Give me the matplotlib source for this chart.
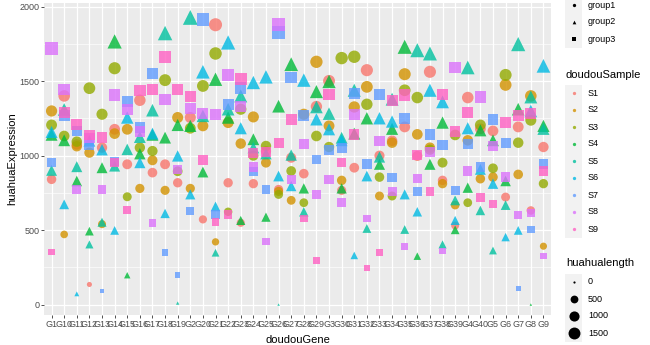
import numpy as np
import matplotlib
matplotlib.use("Agg")
import matplotlib.pyplot as plt

plt.rcParams['font.family'] = ['Liberation Sans', 'DejaVu Sans']

genes = ['G1', 'G10', 'G11', 'G12', 'G13', 'G14', 'G15', 'G16', 'G17', 'G18',
         'G19', 'G2', 'G20', 'G21', 'G22', 'G23', 'G24', 'G25', 'G26', 'G27',
         'G28', 'G29', 'G3', 'G30', 'G31', 'G32', 'G33', 'G34', 'G35', 'G36',
         'G37', 'G38', 'G39', 'G4', 'G40', 'G5', 'G6', 'G7', 'G8', 'G9']

# huahuaExpression per sample, in the gene order above
S1 = [841, 1401, 1075, 135, 1054, 1177, 942, 1372, 886, 942,
      818, 1256, 572, 1879, 818, 549, 812, 1030, 773, 986,
      879, 1330, 1502, 767, 919, 1574, 1000, 1100, 1193, 998,
      1563, 834, 531, 1390, 1180, 1166, 722, 1193, 632, 1058]
S2 = [1300, 471, 1063, 1020, 540, 1148, 1177, 780, 969, 767,
      1256, 780, 1200, 421, 1222, 1081, 1260, 953, 760, 700,
      1278, 1630, 1200, 834, 1327, 1462, 729, 1087, 1547, 1143,
      1054, 812, 668, 1103, 845, 856, 1475, 874, 1401, 392]
S3 = [1206, 1132, 1094, 1453, 1278, 1587, 724, 1054, 1031, 1507,
      895, 1184, 1468, 1686, 623, 1312, 1000, 1065, 740, 897,
      684, 1132, 1058, 1655, 1664, 1345, 856, 729, 1439, 1390,
      1040, 953, 1139, 684, 1206, 915, 1542, 1087, 1238, 812]
S4 = [1140, 1103, 830, 493, 919, 1767, 197, 1013, 1140, 1121,
      1206, 1200, 890, 1513, 1256, 565, 1110, 587, 1332, 1614,
      780, 1430, 1498, 780, 1148, 1251, 942, 1180, 1731, 325,
      942, 1222, 502, 785, 1170, 1103, 830, 1312, 0, 1200]
S5 = [901, 1310, 926, 404, 553, 930, 1042, 1125, 1305, 1823,
      10, 1928, 1267, 348, 1312, 1401, 1054, 1013, 0, 1004,
      623, 1327, 1282, 1120, 1439, 511, 991, 1379, 504, 1708,
      1686, 404, 700, 1592, 632, 363, 668, 1749, 1394, 1180]
S6 = [1159, 673, 72, 1100, 1040, 498, 1256, 953, 1148, 612,
      998, 740, 1563, 659, 1760, 1184, 1491, 1529, 863, 796,
      1507, 1244, 1177, 1103, 330, 863, 1251, 1229, 740, 623,
      1439, 1361, 565, 1184, 908, 812, 453, 498, 1300, 1603]
S7 = [953, 1267, 1166, 1072, 90, 960, 1363, 1188, 1551, 348,
      197, 628, 1912, 605, 1341, 1453, 892, 773, 1827, 1524,
      1267, 975, 1036, 1054, 1417, 942, 1412, 852, 1251, 762,
      1143, 1072, 767, 1081, 924, 1244, 1087, 108, 504, 942]
S8 = [1720, 1446, 773, 1120, 773, 1408, 1312, 1161, 549, 1377,
      908, 1318, 1282, 1278, 1542, 1327, 924, 426, 1879, 841,
      1076, 740, 841, 684, 1278, 578, 1099, 758, 392, 847,
      1027, 359, 1592, 897, 1394, 1065, 856, 599, 614, 325]
S9 = [354, 1289, 1211, 1140, 1121, 953, 634, 1439, 1446, 1664,
      1446, 1397, 971, 556, 605, 1513, 1020, 1027, 1087, 1244,
      578, 296, 1412, 953, 1143, 247, 348, 1372, 1408, 1004,
      758, 1412, 1161, 1289, 717, 677, 1222, 1267, 1282, 897]

samples = ['S1', 'S2', 'S3', 'S4', 'S5', 'S6', 'S7', 'S8', 'S9']
sample_values = [S1, S2, S3, S4, S5, S6, S7, S8, S9]
sample_groups = ['group1', 'group1', 'group1', 'group2', 'group2', 'group2',
                 'group3', 'group3', 'group3']
groups = ['group1', 'group2', 'group3']
size_breaks = [0, 500, 1000, 1500]

# ggplot hue palette
colors = ['#F8766D', '#D39200', '#93AA00', '#00BA38', '#00C19F',
          '#00B9E3', '#619CFF', '#DB72FB', '#FF61C3']
markers = {'group1': 'o', 'group2': '^', 'group3': 's'}
mscale = {'o': 1.0, '^': 1.12, 's': 0.97}

vmax = max(max(v) for v in sample_values)


def gg_size(v):
    # scale_size: area palette, range 1..6
    return 1 + 5 * np.sqrt(np.asarray(v, dtype=float) / vmax)


def to_s(size, marker):
    d_px = 2.2 * size * mscale[marker]
    return (d_px * 0.72) ** 2


W, H = 650, 345
fig = plt.figure(figsize=(6.5, 3.45), dpi=100)
px_l, px_r, px_t, px_b = 44, 551, 3, 315
ax = fig.add_axes([px_l / W, 1 - px_b / H, (px_r - px_l) / W, (px_b - px_t) / H])
ax.set_facecolor('#EBEBEB')
for sp in ax.spines.values():
    sp.set_visible(False)

x = np.arange(1, len(genes) + 1)
for vals, col, grp in zip(sample_values, colors, sample_groups):
    m = markers[grp]
    ax.scatter(x, vals, s=to_s(gg_size(vals), m), marker=m, color=col,
               alpha=0.8, linewidths=0, zorder=3)

ax.set_xlim(0.4, len(genes) + 0.6)
ax.set_ylim(-70, 2025)
ax.set_xticks(x)
ax.set_xticklabels(genes)
ax.set_yticks([0, 500, 1000, 1500, 2000])
ax.set_yticks([250, 750, 1250, 1750], minor=True)
ax.grid(which='major', color='white', lw=0.9)
ax.grid(which='minor', axis='y', color='white', lw=0.45)
ax.set_axisbelow(True)
ax.tick_params(which='major', length=2.2, width=0.6, color='#333333',
               labelsize=6.5, labelcolor='#4D4D4D', pad=1.2)
ax.tick_params(which='minor', length=0)

fig.text((px_l + px_r) / 2 / W, 1 - 340 / H, 'doudouGene', ha='center',
         va='center', fontsize=8)
fig.text(12 / W, 1 - (px_t + px_b) / 2 / H, 'huahuaExpression', ha='center',
         va='center', rotation=90, fontsize=8)

# legends, drawn in pixel coordinates
lg = fig.add_axes([560 / W, 0, 90 / W, 1])
lg.set_xlim(560, 650)
lg.set_ylim(H, 0)
lg.axis('off')
kx, tx, key = 573.5, 588, 17


def key_box(y):
    lg.add_patch(plt.Rectangle((kx - key / 2, y - key / 2), key, key,
                               facecolor='#F2F2F2', edgecolor='none'))


for i, g in enumerate(groups):
    y = 5 + i * 17
    key_box(y)
    m = markers[g]
    lg.scatter([kx], [y], s=to_s(1.5, m), marker=m, color='black', linewidths=0)
    lg.text(tx, y, g, va='center', ha='left', fontsize=6.5)

lg.text(566, 75, 'doudouSample', va='center', ha='left', fontsize=8)
for i, (smp, col) in enumerate(zip(samples, colors)):
    y = 93 + i * 17
    key_box(y)
    lg.scatter([kx], [y], s=to_s(1.5, 'o'), marker='o', color=col, alpha=0.8,
               linewidths=0)
    lg.text(tx, y, smp, va='center', ha='left', fontsize=6.5)

lg.text(566, 263, 'huahualength', va='center', ha='left', fontsize=8)
for i, b in enumerate(size_breaks):
    y = 282 + i * 17
    key_box(y)
    lg.scatter([kx], [y], s=to_s(gg_size(b), 'o'), marker='o', color='black',
               linewidths=0)
    lg.text(tx, y, str(b), va='center', ha='left', fontsize=6.5)

fig.savefig('out.png', dpi=100)
